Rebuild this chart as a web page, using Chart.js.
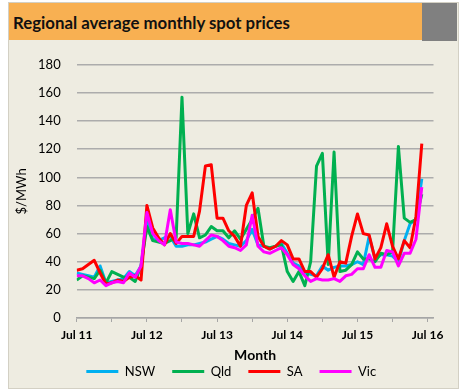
<!DOCTYPE html>
<html>
<head>
<meta charset="utf-8">
<title>Regional average monthly spot prices</title>
<script src="https://cdn.jsdelivr.net/npm/chart.js@4.4.1/dist/chart.umd.min.js"></script>
<style>
  html, body { margin: 0; padding: 0; background: #fff; }
  .panel {
    position: absolute; left: 9px; top: 3px; width: 449px; height: 385px;
    background: #eeece1; outline: 1px solid #d3d0c4;
  }
  .panel-title {
    position: absolute; left: 0; top: 0; width: 413px; height: 37px;
    box-sizing: border-box; padding-left: 4px;
    background: #f8b052; color: #111;
    font: bold 16.8px Lato, "Open Sans", sans-serif; line-height: 39px;
  }
  .panel-corner { position: absolute; left: 413px; top: 0; width: 35px; height: 38px; background: #808080; }
  #chart { position: absolute; left: 0; top: 38px; }
</style>
</head>
<body>
<div class="panel">
  <div class="panel-title">Regional average monthly spot prices</div>
  <div class="panel-corner"></div>
  <canvas id="chart" width="449" height="347"></canvas>
</div>
<script>
// Monthly averages, Jul 11 .. Jun 16 ($/MWh)
const tickLabels = ["Jul 11", "Jul 12", "Jul 13", "Jul 14", "Jul 15", "Jul 16"];
const monthNames = ["Jul", "Aug", "Sep", "Oct", "Nov", "Dec", "Jan", "Feb", "Mar", "Apr", "May", "Jun"];

const nsw = [32, 31, 30, 29, 37, 25, 26, 27, 28, 33, 30, 37,
  69, 56, 55, 57, 58, 51, 51, 52, 52, 53, 54, 56,
  58, 56, 53, 52, 51, 55, 63, 52, 51, 49, 51, 53,
  46, 39, 37, 32, 31, 30, 37, 34, 36, 37, 37, 38,
  40, 38, 58, 42, 45, 45, 44, 40, 55, 67, 70, 99];

const qld = [27, 30, 29, 28, 34, 25, 33, 31, 29, 29, 26, 37,
  65, 55, 54, 53, 55, 57, 157, 60, 74, 57, 59, 65,
  62, 62, 57, 62, 56, 63, 70, 78, 51, 50, 51, 52,
  33, 26, 33, 23, 40, 108, 117, 38, 118, 33, 34, 38,
  47, 42, 42, 40, 46, 45, 47, 122, 71, 68, 70, 88];

const sa = [34, 35, 38, 41, 32, 24, 25, 27, 26, 29, 30, 27,
  80, 64, 57, 52, 60, 53, 58, 58, 58, 76, 108, 109,
  71, 71, 62, 58, 51, 80, 89, 58, 51, 49, 51, 55,
  52, 42, 42, 33, 33, 29, 35, 45, 29, 40, 39, 58,
  74, 60, 59, 42, 50, 67, 51, 42, 55, 50, 72, 124];

const vic = [30, 30, 28, 25, 27, 23, 25, 26, 25, 32, 29, 37,
  75, 60, 55, 52, 77, 54, 53, 53, 52, 51, 55, 59,
  58, 55, 51, 50, 48, 52, 73, 51, 47, 46, 48, 50,
  45, 38, 35, 30, 26, 28, 27, 27, 28, 26, 30, 31,
  35, 35, 45, 36, 36, 48, 47, 37, 46, 46, 56, 93];

const months = nsw.map((_, i) => monthNames[i % 12] + " " + (11 + Math.floor((i + 6) / 12)));

function toPoints(values) {
  return values.map((y, i) => ({ x: i, y: y }));
}

Chart.defaults.font.family = "Lato, 'Open Sans', sans-serif";
Chart.defaults.color = "#000";

const lineStyle = {
  borderWidth: 3,
  pointRadius: 0,
  tension: 0,
  fill: false,
  borderJoinStyle: "round",
};

new Chart(document.getElementById("chart"), {
  type: "line",
  data: {
    datasets: [
      { ...lineStyle, label: "NSW", data: toPoints(nsw), borderColor: "#00b0f0", backgroundColor: "#00b0f0", order: 3 },
      { ...lineStyle, label: "Qld", data: toPoints(qld), borderColor: "#00b050", backgroundColor: "#00b050", order: 2 },
      { ...lineStyle, label: "SA", data: toPoints(sa), borderColor: "#ff0000", backgroundColor: "#ff0000", order: 1 },
      { ...lineStyle, label: "Vic", data: toPoints(vic), borderColor: "#ff00ff", backgroundColor: "#ff00ff", order: 0 },
    ],
  },
  options: {
    responsive: false,
    devicePixelRatio: 1,
    animation: false,
    layout: { padding: { top: 21.5, right: 24.5, bottom: 0, left: 20 } },
    plugins: {
      tooltip: { enabled: false },
      legend: {
        position: "bottom",
        labels: {
          usePointStyle: true,
          pointStyle: "line",
          pointStyleWidth: 32,
          padding: 17,
          font: { size: 13 },
          color: "#000",
          sort: (a, b) => a.datasetIndex - b.datasetIndex,
        },
      },
    },
    scales: {
      x: {
        type: "linear",
        min: 0,
        max: 61,
        grid: { drawOnChartArea: false, drawTicks: true, tickLength: 4, color: "#a6a6a6" },
        border: { display: true, color: "#a6a6a6", width: 1.5 },
        ticks: {
          stepSize: 6,
          includeBounds: false,
          autoSkip: false,
          maxRotation: 0,
          padding: 6,
          font: { size: 12, weight: "bold" },
          callback: (v) => (v % 12 === 0 ? tickLabels[v / 12] : ""),
        },
        title: {
          display: true,
          text: "Month",
          font: { size: 14, weight: "bold" },
          padding: { top: 0, bottom: -16 },
        },
        afterFit: (scale) => { scale.height = 30; },
      },
      y: {
        min: 0,
        max: 180,
        ticks: { stepSize: 20, padding: 16, font: { size: 13 } },
        grid: { color: "#acacac", lineWidth: 1.5, drawTicks: false },
        border: { display: false },
        title: { display: true, text: "$/MWh", font: { size: 13 }, padding: { top: -14.8, bottom: 0 } },
        afterFit: (scale) => { scale.width = 47.7; },
      },
    },
  },
});
</script>
</body>
</html>
